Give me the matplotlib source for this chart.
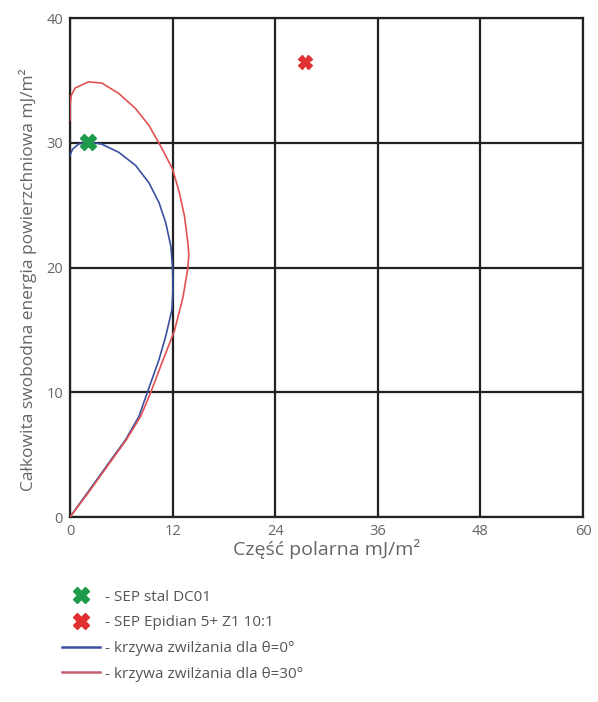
import matplotlib

matplotlib.use("Agg")
import matplotlib.pyplot as plt
from matplotlib.lines import Line2D

plt.rcParams["font.family"] = ["Open Sans", "DejaVu Sans"]

# krzywa zwilzania dla theta = 0 (odczyt z wykresu)
blue_x = [0, 2.2, 4.5, 6.5, 8.06, 9.05, 10.4, 11.2, 11.92, 12.05, 12.0, 11.8, 11.2, 10.42,
          9.24, 7.67, 5.7, 3.73, 2.1, 1.0, 0.3, 0]
blue_y = [0, 2.1, 4.3, 6.2, 8.06, 10, 12.6, 14.5, 16.6, 18.3, 20, 21.7, 23.6, 25.2,
          26.8, 28.2, 29.25, 29.9, 30.1, 29.9, 29.5, 29.0]

# krzywa zwilzania dla theta = 30
red_x = [0, 2.2, 4.5, 6.5, 8.26, 9.45, 10.8, 12.2, 13.2, 13.77, 13.9, 13.8, 13.4, 12.8,
         12.0, 10.8, 9.24, 7.67, 5.7, 3.73, 2.16, 0.59, 0.15, 0, 0]
red_y = [0, 2.0, 4.2, 6.1, 8.06, 10, 12.45, 14.9, 17.57, 19.9, 21.0, 21.9, 24.1, 26.0,
         27.9, 29.5, 31.4, 32.76, 33.97, 34.8, 34.9, 34.4, 33.8, 33.0, 31.8]

# punkty SEP
steel_pt = (2.1, 30.1)
epoxy_pt = (27.5, 36.5)

x_ticks = [0, 12, 24, 36, 48, 60]
y_ticks = [0, 10, 20, 30, 40]

labels = ["- SEP stal DC01", "- SEP Epidian 5+ Z1 10:1",
          "- krzywa zwilżania dla θ=0°", "- krzywa zwilżania dla θ=30°"]

GRAY = "#666666"

fig = plt.figure(figsize=(5.98, 7.02), dpi=100)
ax = fig.add_axes([0.117, 0.2635, 0.858, 0.7105])

ax.plot(blue_x, blue_y, color="#3a4fa0", lw=1.2, zorder=3)
ax.plot(red_x, red_y, color="#e25252", lw=1.2, zorder=3)
ax.plot(*steel_pt, marker="X", ms=12, color="#1e9a4a", mec="#1e9a4a", ls="none", zorder=4)
ax.plot(*epoxy_pt, marker="X", ms=10, color="#e03030", mec="#e03030", ls="none", zorder=4)

ax.set_xlim(0, 60)
ax.set_ylim(0, 40)
ax.set_xticks(x_ticks)
ax.set_yticks(y_ticks)
ax.grid(True, color="#222222", lw=1.6)
ax.set_axisbelow(True)
for s in ax.spines.values():
    s.set_color("#222222")
    s.set_linewidth(1.6)
ax.tick_params(length=0, labelsize=10.5, labelcolor=GRAY, pad=5)

ax.set_xlabel("Część polarna mJ/m²", fontsize=14, color=GRAY, labelpad=0)
ax.set_ylabel("Całkowita swobodna energia powierzchniowa mJ/m²", fontsize=12.5, color=GRAY)
ax.yaxis.set_label_coords(-0.065, 0.475)

handles = [
    Line2D([], [], marker="X", ms=12, color="#1e9a4a", ls="none"),
    Line2D([], [], marker="X", ms=12, color="#e03030", ls="none"),
    Line2D([], [], color="#3a4fa0", lw=1.8),
    Line2D([], [], color="#c06070", lw=1.8),
]
leg = fig.legend(handles, labels, loc="upper left", bbox_to_anchor=(0.104, 0.160),
                 frameon=False, fontsize=11, handlelength=2.5, handletextpad=0.3,
                 labelspacing=0.7, borderpad=0, borderaxespad=0)
for t in leg.get_texts():
    t.set_color("#555555")

fig.savefig("out.png", dpi=100)
